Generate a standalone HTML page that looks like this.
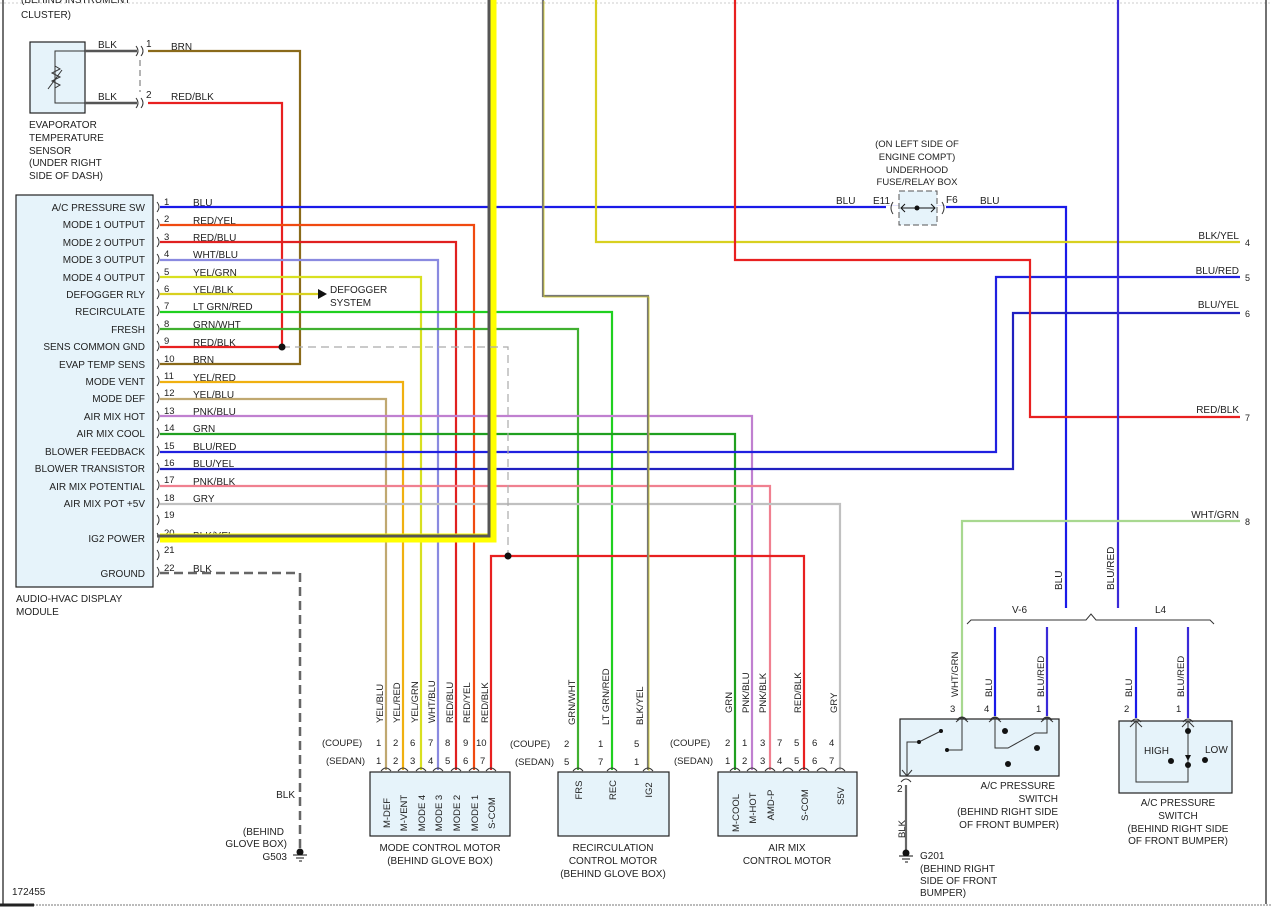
<!DOCTYPE html>
<html><head><meta charset="utf-8"><style>
html,body{margin:0;padding:0;background:#fff;}
svg{display:block;font-family:"Liberation Sans",sans-serif;font-size:10px;fill:#222;}
text{fill:#222;}
.b{fill:#e6f3fa;stroke:#222;stroke-width:1.2;}
.w{fill:none;stroke-linejoin:miter;}
</style></head><body>
<svg width="1272" height="908" viewBox="0 0 1272 908" xmlns="http://www.w3.org/2000/svg">
<line x1="0" y1="3" x2="1272" y2="3" stroke="#ccc" stroke-width="1" stroke-dasharray="2,2"/>
<line x1="3" y1="0" x2="3" y2="904" stroke="#444" stroke-width="1.5"/>
<line x1="1266" y1="0" x2="1266" y2="904" stroke="#444" stroke-width="1.5"/>
<line x1="0" y1="905" x2="1272" y2="905" stroke="#bbb" stroke-width="2" stroke-dasharray="2,1"/>
<line x1="0" y1="905" x2="34" y2="905" stroke="#222" stroke-width="3"/>

<text x="21" y="18">CLUSTER)</text>
<text x="21" y="3">(BEHIND INSTRUMENT</text>

<rect class="b" x="30" y="42" width="55" height="71"/>
<path d="M85 51 H55 V103 H85" fill="none" stroke="#333" stroke-width="1"/>
<path d="M55 66 l5 3 -8 4 8 4 -8 4 8 4 -5 3" fill="none" stroke="#333" stroke-width="1"/>
<line x1="48" y1="89" x2="62" y2="70" stroke="#333" stroke-width="1"/>
<line x1="85" y1="51" x2="137" y2="51" stroke="#555" stroke-width="2.5"/>
<line x1="85" y1="103" x2="137" y2="103" stroke="#555" stroke-width="2.5"/>
<text x="98" y="48">BLK</text><text x="98" y="100">BLK</text>
<path d="M136 46 q4 5 0 10 M141 46 q4 5 0 10 M136 98 q4 5 0 10 M141 98 q4 5 0 10" fill="none" stroke="#333" stroke-width="1"/>
<line x1="140" y1="60" x2="140" y2="92" stroke="#444" stroke-width="0.8" stroke-dasharray="6,4"/>
<text x="146" y="47">1</text><text x="146" y="98">2</text>
<text x="171" y="50">BRN</text><text x="171" y="100">RED/BLK</text>
<text x="29" y="128">EVAPORATOR</text><text x="29" y="141">TEMPERATURE</text><text x="29" y="154">SENSOR</text><text x="29" y="166">(UNDER RIGHT</text><text x="29" y="179">SIDE OF DASH)</text>

<rect class="b" x="16" y="195" width="137" height="392"/>
<g text-anchor="end">
<text x="145" y="211">A/C PRESSURE SW</text>
<text x="145" y="228">MODE 1 OUTPUT</text>
<text x="145" y="246">MODE 2 OUTPUT</text>
<text x="145" y="263">MODE 3 OUTPUT</text>
<text x="145" y="281">MODE 4 OUTPUT</text>
<text x="145" y="298">DEFOGGER RLY</text>
<text x="145" y="315">RECIRCULATE</text>
<text x="145" y="333">FRESH</text>
<text x="145" y="350">SENS COMMON GND</text>
<text x="145" y="368">EVAP TEMP SENS</text>
<text x="145" y="385">MODE VENT</text>
<text x="145" y="402">MODE DEF</text>
<text x="145" y="420">AIR MIX HOT</text>
<text x="145" y="437">AIR MIX COOL</text>
<text x="145" y="455">BLOWER FEEDBACK</text>
<text x="145" y="472">BLOWER TRANSISTOR</text>
<text x="145" y="490">AIR MIX POTENTIAL</text>
<text x="145" y="507">AIR MIX POT +5V</text>
<text x="145" y="542">IG2 POWER</text>
<text x="145" y="577">GROUND</text>
</g>
<text x="16" y="602">AUDIO-HVAC DISPLAY</text><text x="16" y="615">MODULE</text>
<g fill="none" stroke="#333" stroke-width="1">
<path d="M157 202 q4 5 0 10 M157 219 q4 5 0 10 M157 237 q4 5 0 10 M157 254 q4 5 0 10 M157 272 q4 5 0 10 M157 289 q4 5 0 10 M157 306 q4 5 0 10 M157 324 q4 5 0 10 M157 341 q4 5 0 10 M157 359 q4 5 0 10 M157 376 q4 5 0 10 M157 393 q4 5 0 10 M157 411 q4 5 0 10 M157 428 q4 5 0 10 M157 446 q4 5 0 10 M157 463 q4 5 0 10 M157 480 q4 5 0 10 M157 498 q4 5 0 10 M157 515 q4 5 0 10 M157 533 q4 5 0 10 M157 550 q4 5 0 10 M157 567 q4 5 0 10"/>
</g>
<g font-size="9.5">
<text x="164" y="205">1</text><text x="164" y="222">2</text><text x="164" y="240">3</text><text x="164" y="257">4</text><text x="164" y="275">5</text><text x="164" y="292">6</text><text x="164" y="309">7</text><text x="164" y="327">8</text><text x="164" y="344">9</text><text x="164" y="362">10</text><text x="164" y="379">11</text><text x="164" y="396">12</text><text x="164" y="414">13</text><text x="164" y="431">14</text><text x="164" y="449">15</text><text x="164" y="466">16</text><text x="164" y="483">17</text><text x="164" y="501">18</text><text x="164" y="518">19</text><text x="164" y="536">20</text><text x="164" y="553">21</text><text x="164" y="571">22</text>
</g>
<g>
<text x="193" y="206">BLU</text><text x="193" y="224">RED/YEL</text><text x="193" y="241">RED/BLU</text><text x="193" y="258">WHT/BLU</text><text x="193" y="276">YEL/GRN</text><text x="193" y="293">YEL/BLK</text><text x="193" y="310">LT GRN/RED</text><text x="193" y="328">GRN/WHT</text><text x="193" y="346">RED/BLK</text><text x="193" y="363">BRN</text><text x="193" y="381">YEL/RED</text><text x="193" y="398">YEL/BLU</text><text x="193" y="415">PNK/BLU</text><text x="193" y="432">GRN</text><text x="193" y="450">BLU/RED</text><text x="193" y="467">BLU/YEL</text><text x="193" y="485">PNK/BLK</text><text x="193" y="502">GRY</text><text x="193" y="539">BLK/YEL</text><text x="193" y="572">BLK</text>
</g>

<g class="w" stroke-width="2.2">
<path d="M148 51 H300 V364 H160" stroke="#8a6a1a"/>
<path d="M148 103 H282 V347 H160" stroke="#e82020"/>
<path d="M160 207 H1066 V608" stroke="#1a1ae8"/>
<path d="M160 225 H474 V770" stroke="#f04a10"/>
<path d="M160 242 H456 V770" stroke="#e02020"/>
<path d="M160 260 H438 V770" stroke="#8a8ae0"/>
<path d="M160 277 H421 V770" stroke="#d8e020"/>
<path d="M160 294 H318" stroke="#d8d020"/>
<path d="M160 312 H612 V770" stroke="#20d020"/>
<path d="M160 329 H578 V770" stroke="#40b030"/>
<path d="M160 382 H403 V770" stroke="#f0b010"/>
<path d="M160 399 H386 V770" stroke="#c0a870"/>
<path d="M160 416 H752 V770" stroke="#c080d0"/>
<path d="M160 434 H735 V770" stroke="#20a020"/>
<path d="M160 452 H996 V277 H1240" stroke="#2020e0"/>
<path d="M160 469 H1013 V313 H1240" stroke="#2020c0"/>
<path d="M160 486 H770 V770" stroke="#f08090"/>
<path d="M160 504 H840 V770" stroke="#c0c0c0"/>
<path d="M491 770 V556 H804 V770" stroke="#e82020"/>
<path d="M543 0 V296 H648 V770" stroke="#777"/>
<path d="M596 0 V242 H1240" stroke="#d8d020"/>
<path d="M735 0 V260 H1030 V417 H1240" stroke="#e82020"/>
<path d="M1118 0 V608" stroke="#3a2ad8"/>
<path d="M962 717 V521 H1240" stroke="#a8d890"/>
<path d="M995 627 V716 M1136 627 V718" stroke="#1a1ae8"/>
<path d="M1047 627 V716 M1188 627 V718" stroke="#3a2ad8"/>
<path d="M906 785 V850" stroke="#666"/>
</g>
<path d="M543 0 V296 H648 V770" fill="none" stroke="#d8d020" stroke-width="0.8" transform="translate(1,1)"/>
<path d="M160 538 H492 V0" fill="none" stroke="#ffff00" stroke-width="9"/>
<path d="M160 538 H492 V0" fill="none" stroke="#555" stroke-width="3" transform="translate(-3,-2)"/>
<path d="M160 573 H300 V848" fill="none" stroke="#666" stroke-width="2.5" stroke-dasharray="9,5"/>
<path d="M282 347 H508 V556" fill="none" stroke="#aaa" stroke-width="1.2" stroke-dasharray="8,5"/>
<circle cx="282" cy="347" r="3.5" fill="#111"/>
<circle cx="508" cy="556" r="3.5" fill="#111"/>
<path d="M318 289 L327 294 L318 299 Z" fill="#111"/>
<text x="330" y="293">DEFOGGER</text><text x="330" y="306">SYSTEM</text>
<circle cx="300" cy="852" r="3.5" fill="#111"/>
<path d="M293 855 H307 M296 858 H304 M299 861 H302" stroke="#111" stroke-width="1"/>
<text x="295" y="798" text-anchor="end">BLK</text>
<text x="284" y="835" text-anchor="end">(BEHIND</text><text x="287" y="847" text-anchor="end">GLOVE BOX)</text><text x="287" y="860" text-anchor="end">G503</text>
<text x="12" y="895">172455</text>

<text x="917" y="147" text-anchor="middle" font-size="9.5">(ON LEFT SIDE OF</text>
<text x="917" y="160" text-anchor="middle" font-size="9.5">ENGINE COMPT)</text>
<text x="917" y="173" text-anchor="middle" font-size="9.5">UNDERHOOD</text>
<text x="917" y="185" text-anchor="middle" font-size="9.5">FUSE/RELAY BOX</text>
<line x1="886" y1="208" x2="946" y2="208" stroke="#fff" stroke-width="4"/>
<rect x="899" y="191" width="38" height="34" fill="#e6f3fa" stroke="#555" stroke-dasharray="6,3"/>
<line x1="901" y1="208" x2="935" y2="208" stroke="#111" stroke-width="1"/>
<path d="M905 204 L901 208 L905 212 M931 204 L935 208 L931 212" fill="none" stroke="#111"/>
<circle cx="917" cy="208" r="2.5" fill="#111"/>
<path d="M893 202 q-4 6 0 12 M942 202 q4 6 0 12" fill="none" stroke="#333"/>
<text x="836" y="204">BLU</text><text x="873" y="204">E11</text><text x="946" y="203">F6</text><text x="980" y="204">BLU</text>

<g text-anchor="end"><text x="1239" y="239">BLK/YEL</text><text x="1239" y="274">BLU/RED</text><text x="1239" y="308">BLU/YEL</text><text x="1239" y="413">RED/BLK</text><text x="1239" y="518">WHT/GRN</text></g>
<g font-size="9"><text x="1245" y="246">4</text><text x="1245" y="281">5</text><text x="1245" y="317">6</text><text x="1245" y="421">7</text><text x="1245" y="525">8</text></g>
<text transform="translate(1062,590) rotate(-90)">BLU</text>
<text transform="translate(1114,590) rotate(-90)">BLU/RED</text>

<path d="M967 624 L971 620 H1086 L1091 614 L1096 620 H1210 L1214 624" fill="none" stroke="#333" stroke-width="1"/>
<text x="1012" y="613">V-6</text><text x="1155" y="613">L4</text>

<g font-size="9.5">
<text transform="translate(958,697) rotate(-90)">WHT/GRN</text>
<text transform="translate(992,697) rotate(-90)">BLU</text>
<text transform="translate(1044,697) rotate(-90)">BLU/RED</text>
<text x="950" y="712">3</text><text x="984" y="712">4</text><text x="1036" y="712">1</text>
</g>
<rect class="b" x="900" y="719" width="159" height="57"/>
<path d="M957 720 q5 -6 10 0 M990 720 q5 -6 10 0 M1042 720 q5 -6 10 0" fill="none" stroke="#333"/>
<path d="M989 722 L995 717 L1001 722 M956 722 L962 717 L968 722 M1041 722 L1047 717 L1053 722" fill="none" stroke="#333"/>
<g fill="none" stroke="#333" stroke-width="1">
<path d="M962 718 V750 H948"/>
<path d="M995 718 V748 H1008 L1035 733 H1047 V718"/>
<path d="M907 776 V742 H919 L941 731"/>
<path d="M902 770 L907 776 L912 770"/>
</g>
<circle cx="947" cy="750" r="2" fill="#111"/><circle cx="919" cy="742" r="2" fill="#111"/><circle cx="941" cy="731" r="2" fill="#111"/>
<circle cx="1005" cy="731" r="3" fill="#111"/><circle cx="1008" cy="764" r="3" fill="#111"/><circle cx="1037" cy="748" r="3" fill="#111"/>
<path d="M901 782 q5 -6 10 0" fill="none" stroke="#333"/>
<text x="897" y="792">2</text>
<text transform="translate(905,838) rotate(-90)" font-size="9.5">BLK</text>
<circle cx="906" cy="853" r="3.5" fill="#111"/>
<path d="M899 856 H913 M902 859 H910 M905 862 H908" stroke="#111"/>
<text x="920" y="859">G201</text><text x="920" y="872">(BEHIND RIGHT</text><text x="920" y="884">SIDE OF FRONT</text><text x="920" y="896">BUMPER)</text>
<text x="1055" y="789" text-anchor="end">A/C PRESSURE</text><text x="1058" y="802" text-anchor="end">SWITCH</text>
<text x="1058" y="815" text-anchor="end">(BEHIND RIGHT SIDE</text><text x="1059" y="828" text-anchor="end">OF FRONT BUMPER)</text>

<g font-size="9.5">
<text transform="translate(1132,697) rotate(-90)">BLU</text>
<text transform="translate(1184,697) rotate(-90)">BLU/RED</text>
<text x="1124" y="712">2</text><text x="1176" y="712">1</text>
</g>
<rect class="b" x="1119" y="721" width="113" height="72"/>
<path d="M1131 722 q5 -6 10 0 M1183 722 q5 -6 10 0" fill="none" stroke="#333"/>
<g fill="none" stroke="#333"><path d="M1136 722 V782 H1188 V722"/><path d="M1130 727 L1136 721 L1142 727 M1182 727 L1188 721 L1194 727"/></g>
<path d="M1185 755 L1188 761 L1191 755 Z" fill="#111"/>
<circle cx="1188" cy="731" r="3" fill="#111"/><circle cx="1188" cy="765" r="3" fill="#111"/>
<circle cx="1171" cy="761" r="3" fill="#111"/><circle cx="1205" cy="760" r="3" fill="#111"/>
<text x="1144" y="754">HIGH</text><text x="1205" y="753">LOW</text>
<text x="1178" y="806" text-anchor="middle">A/C PRESSURE</text><text x="1178" y="819" text-anchor="middle">SWITCH</text>
<text x="1178" y="832" text-anchor="middle">(BEHIND RIGHT SIDE</text><text x="1178" y="844" text-anchor="middle">OF FRONT BUMPER)</text>

<rect class="b" x="370" y="772" width="140" height="64"/>
<rect class="b" x="558" y="772" width="111" height="64"/>
<rect class="b" x="718" y="772" width="139" height="64"/>
<g fill="none" stroke="#333">
<path d="M381 771 q5 -6 10 0 M398 771 q5 -6 10 0 M416 771 q5 -6 10 0 M433 771 q5 -6 10 0 M451 771 q5 -6 10 0 M469 771 q5 -6 10 0 M486 771 q5 -6 10 0"/>
<path d="M573 771 q5 -6 10 0 M607 771 q5 -6 10 0 M643 771 q5 -6 10 0"/>
<path d="M730 771 q5 -6 10 0 M747 771 q5 -6 10 0 M765 771 q5 -6 10 0 M783 771 q5 -6 10 0 M799 771 q5 -6 10 0 M817 771 q5 -6 10 0 M835 771 q5 -6 10 0"/>
</g>
<g font-size="9.5">
<text transform="translate(383,723) rotate(-90)">YEL/BLU</text>
<text transform="translate(400,723) rotate(-90)">YEL/RED</text>
<text transform="translate(418,723) rotate(-90)">YEL/GRN</text>
<text transform="translate(435,723) rotate(-90)">WHT/BLU</text>
<text transform="translate(453,723) rotate(-90)">RED/BLU</text>
<text transform="translate(470,723) rotate(-90)">RED/YEL</text>
<text transform="translate(488,723) rotate(-90)">RED/BLK</text>
<text transform="translate(575,725) rotate(-90)">GRN/WHT</text>
<text transform="translate(609,725) rotate(-90)">LT GRN/RED</text>
<text transform="translate(643,725) rotate(-90)">BLK/YEL</text>
<text transform="translate(732,713) rotate(-90)">GRN</text>
<text transform="translate(749,713) rotate(-90)">PNK/BLU</text>
<text transform="translate(766,713) rotate(-90)">PNK/BLK</text>
<text transform="translate(801,713) rotate(-90)">RED/BLK</text>
<text transform="translate(837,713) rotate(-90)">GRY</text>
<text x="322" y="746">(COUPE)</text><text x="326" y="764">(SEDAN)</text>
<text x="376" y="746">1</text><text x="393" y="746">2</text><text x="410" y="746">6</text><text x="428" y="746">7</text><text x="445" y="746">8</text><text x="463" y="746">9</text><text x="476" y="746">10</text>
<text x="376" y="764">1</text><text x="393" y="764">2</text><text x="410" y="764">3</text><text x="428" y="764">4</text><text x="445" y="764">5</text><text x="463" y="764">6</text><text x="480" y="764">7</text>
<text x="510" y="747">(COUPE)</text><text x="515" y="765">(SEDAN)</text>
<text x="564" y="747">2</text><text x="598" y="747">1</text><text x="634" y="747">5</text>
<text x="564" y="765">5</text><text x="598" y="765">7</text><text x="634" y="765">1</text>
<text x="670" y="746">(COUPE)</text><text x="674" y="764">(SEDAN)</text>
<text x="725" y="746">2</text><text x="742" y="746">1</text><text x="760" y="746">3</text><text x="777" y="746">7</text><text x="794" y="746">5</text><text x="812" y="746">6</text><text x="829" y="746">4</text>
<text x="725" y="764">1</text><text x="742" y="764">2</text><text x="760" y="764">3</text><text x="777" y="764">4</text><text x="794" y="764">5</text><text x="812" y="764">6</text><text x="829" y="764">7</text>
</g>
<g font-size="9.5">
<text transform="translate(390,813) rotate(-90)" text-anchor="middle">M-DEF</text>
<text transform="translate(407,813) rotate(-90)" text-anchor="middle">M-VENT</text>
<text transform="translate(425,813) rotate(-90)" text-anchor="middle">MODE 4</text>
<text transform="translate(442,813) rotate(-90)" text-anchor="middle">MODE 3</text>
<text transform="translate(460,813) rotate(-90)" text-anchor="middle">MODE 2</text>
<text transform="translate(478,813) rotate(-90)" text-anchor="middle">MODE 1</text>
<text transform="translate(495,813) rotate(-90)" text-anchor="middle">S-COM</text>
<text transform="translate(582,790) rotate(-90)" text-anchor="middle">FRS</text>
<text transform="translate(616,790) rotate(-90)" text-anchor="middle">REC</text>
<text transform="translate(652,790) rotate(-90)" text-anchor="middle">IG2</text>
<text transform="translate(739,813) rotate(-90)" text-anchor="middle">M-COOL</text>
<text transform="translate(756,808) rotate(-90)" text-anchor="middle">M-HOT</text>
<text transform="translate(774,805) rotate(-90)" text-anchor="middle">AMD-P</text>
<text transform="translate(808,805) rotate(-90)" text-anchor="middle">S-COM</text>
<text transform="translate(844,796) rotate(-90)" text-anchor="middle">S5V</text>
</g>
<g text-anchor="middle">
<text x="440" y="851">MODE CONTROL MOTOR</text><text x="440" y="864">(BEHIND GLOVE BOX)</text>
<text x="613" y="851">RECIRCULATION</text><text x="613" y="864">CONTROL MOTOR</text><text x="613" y="877">(BEHIND GLOVE BOX)</text>
<text x="787" y="851">AIR MIX</text><text x="787" y="864">CONTROL MOTOR</text>
</g>
</svg>
</body></html>
